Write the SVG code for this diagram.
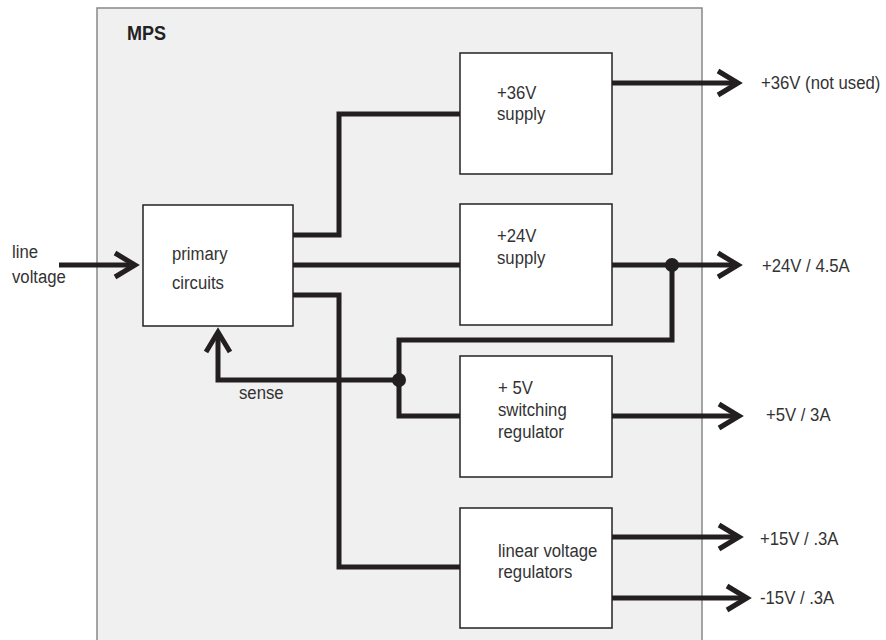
<svg xmlns="http://www.w3.org/2000/svg" width="886" height="640" viewBox="0 0 886 640">
<style>
.t{font-family:"Liberation Sans",Arial,sans-serif;font-size:19px;fill:#333}
.b{font-family:"Liberation Sans",Arial,sans-serif;font-size:20px;font-weight:bold;fill:#222}
.box{fill:#fff;stroke:#222;stroke-width:1.5}
.w{fill:none;stroke:#231f20;stroke-width:5;stroke-linejoin:miter}
.a{marker-end:url(#chev)}
</style>
<defs>
<marker id="chev" markerUnits="userSpaceOnUse" markerWidth="40" markerHeight="40" refX="15" refY="12" orient="auto" overflow="visible">
<path d="M0 0 L20 12 L0 24" fill="none" stroke="#231f20" stroke-width="5" stroke-linejoin="miter"/>
</marker>
</defs>
<rect width="886" height="640" fill="#fff"/>
<g id="mps">
<rect x="97" y="8" width="605" height="640" fill="#f0f0f0" stroke="#888" stroke-width="1.5"/>
<text class="b" transform="translate(127,40) scale(0.9,1)">MPS</text>
</g>
<g id="primary">
<rect class="box" x="143" y="205" width="150" height="121"/>
<text class="t" transform="translate(172,260) scale(0.88,1)">primary</text>
<text class="t" transform="translate(172,289) scale(0.88,1)">circuits</text>
</g>
<g id="s36">
<rect class="box" x="460" y="53" width="152" height="121"/>
<text class="t" transform="translate(497,99) scale(0.88,1)">+36V</text>
<text class="t" transform="translate(497,120) scale(0.88,1)">supply</text>
</g>
<g id="s24">
<rect class="box" x="460" y="204" width="152" height="121"/>
<text class="t" transform="translate(497,242) scale(0.88,1)">+24V</text>
<text class="t" transform="translate(497,264) scale(0.88,1)">supply</text>
</g>
<g id="s5">
<rect class="box" x="460" y="356" width="152" height="121"/>
<text class="t" transform="translate(498,394) scale(0.88,1)">+ 5V</text>
<text class="t" transform="translate(498,416) scale(0.88,1)">switching</text>
<text class="t" transform="translate(498,438) scale(0.88,1)">regulator</text>
</g>
<g id="lin">
<rect class="box" x="460" y="508" width="152" height="120"/>
<text class="t" transform="translate(498,557) scale(0.88,1)">linear voltage</text>
<text class="t" transform="translate(498,578) scale(0.88,1)">regulators</text>
</g>
<g id="connectors">
<path class="w a" d="M59 265 H130"/>
<path class="w a" d="M399 380 H218 V337"/>
<path class="w" d="M293 235 H339 V114 H460"/>
<path class="w" d="M293 265 H460"/>
<path class="w" d="M293 295 H339 V567 H460"/>
<path class="w" d="M672 265 V340 H399 V416 H460"/>
<path class="w a" d="M612 83 H733"/>
<path class="w a" d="M612 265 H733"/>
<path class="w a" d="M612 416 H734"/>
<path class="w a" d="M612 537 H734"/>
<path class="w a" d="M612 598 H742"/>
<circle cx="672" cy="265" r="7" fill="#231f20"/>
<circle cx="399" cy="380" r="7" fill="#231f20"/>
</g>
<g id="labels">
<text class="t" transform="translate(12,258) scale(0.88,1)">line</text>
<text class="t" transform="translate(12,283) scale(0.88,1)">voltage</text>
<text class="t" transform="translate(239,399) scale(0.88,1)">sense</text>
<text class="t" transform="translate(761,89) scale(0.88,1)">+36V (not used)</text>
<text class="t" transform="translate(762,272) scale(0.88,1)">+24V / 4.5A</text>
<text class="t" transform="translate(766,421) scale(0.88,1)">+5V / 3A</text>
<text class="t" transform="translate(760,545) scale(0.88,1)">+15V / .3A</text>
<text class="t" transform="translate(760,604) scale(0.88,1)">-15V / .3A</text>
</g>
</svg>
